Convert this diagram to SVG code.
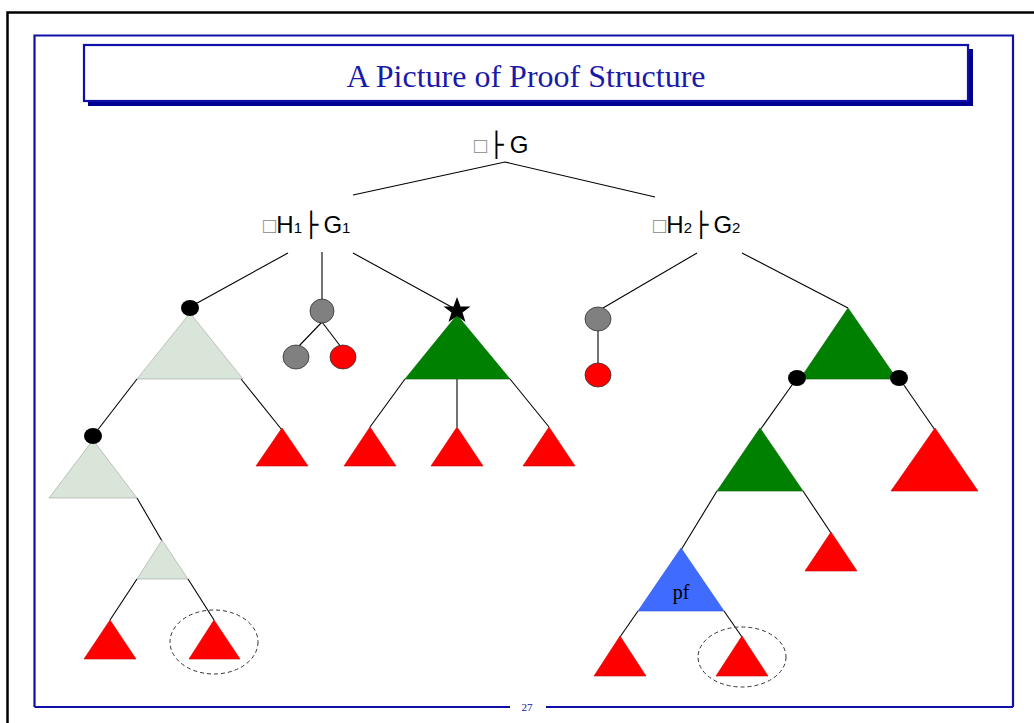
<svg xmlns="http://www.w3.org/2000/svg" width="1034" height="723" viewBox="0 0 1034 723">
<style>
.lbl{font-family:"Liberation Sans",Arial,sans-serif;font-size:24px;fill:#000}
.sub{font-size:15px}
.tofu{fill:#888;font-size:22px}
.tk{font-family:"DejaVu Sans",sans-serif;font-size:24px}
.e{stroke:#000;stroke-width:1.1;fill:none}
.red{fill:#ff0000;stroke:#cc0000;stroke-width:0.6}
.lg{fill:#d8e5d8;stroke:#a0a0a0;stroke-width:0.6}
.dg{fill:#008000;stroke:#006000;stroke-width:0.6}
.blue{fill:#3f6bff;stroke:#2a50d0;stroke-width:0.6}
.gray{fill:#808080;stroke:#333;stroke-width:0.8}
.rc{fill:#ff0000;stroke:#333;stroke-width:0.8}
.dot{fill:#000}
.dash{fill:none;stroke:#333;stroke-width:1;stroke-dasharray:4,3}
</style>
<rect width="1034" height="723" fill="#fff"/>
<g id="frame">
<path d="M7.5,723 V12.5 H1034" fill="none" stroke="#000" stroke-width="2.5"/>
<path d="M34.5,707 V35.5 H1013 V707" fill="none" stroke="#1010a8" stroke-width="2.2"/>
<path d="M34.5,707 H510 M546,707 H1013" fill="none" stroke="#1010a8" stroke-width="2.2"/>
<text x="527" y="711" font-family="Liberation Serif,serif" font-size="11" fill="#1010a8" text-anchor="middle">27</text>
</g>
<g id="title">
<rect x="88" y="49" width="885" height="57" fill="#000090"/>
<rect x="84" y="45" width="884" height="56" fill="#fff" stroke="#1010a8" stroke-width="2.2"/>
<text x="526" y="87" font-family="Liberation Serif,serif" font-size="32" fill="#1a1aa8" text-anchor="middle">A Picture of Proof Structure</text>
</g>
<g id="connectors">
<polyline class="e" points="353,195 505,162 655,197"/>
<line class="e" x1="288" y1="253" x2="190" y2="307"/>
<line class="e" x1="322" y1="252" x2="322" y2="300"/>
<line class="e" x1="353" y1="253" x2="457" y2="310"/>
<line class="e" x1="322" y1="322" x2="298" y2="347"/>
<line class="e" x1="322" y1="322" x2="341" y2="347"/>
<line class="e" x1="137" y1="379" x2="93" y2="436"/>
<line class="e" x1="241" y1="379" x2="282" y2="430"/>
<line class="e" x1="137" y1="498" x2="162" y2="541"/>
<line class="e" x1="137" y1="579" x2="110" y2="620"/>
<line class="e" x1="188" y1="579" x2="214" y2="620"/>
<line class="e" x1="405" y1="379" x2="370" y2="427"/>
<line class="e" x1="457" y1="379" x2="457" y2="427"/>
<line class="e" x1="510" y1="379" x2="549" y2="427"/>
<line class="e" x1="697" y1="253" x2="603" y2="308"/>
<line class="e" x1="742" y1="253" x2="848" y2="308"/>
<line class="e" x1="598" y1="331" x2="598" y2="364"/>
<line class="e" x1="797" y1="378" x2="760" y2="430"/>
<line class="e" x1="899" y1="378" x2="935" y2="430"/>
<line class="e" x1="717" y1="491" x2="681" y2="550"/>
<line class="e" x1="803" y1="491" x2="831" y2="533"/>
<line class="e" x1="638" y1="611" x2="620" y2="637"/>
<line class="e" x1="724" y1="611" x2="742" y2="637"/>
</g>
<g id="root">
<text class="lbl" x="474" y="153"><tspan class="tofu">□</tspan><tspan class="tk" dx="2">├</tspan><tspan dx="6">G</tspan></text>
</g>
<g id="h1">
<text class="lbl" x="263" y="233"><tspan class="tofu">□</tspan>H<tspan class="sub">1</tspan><tspan class="tk" dx="2">├</tspan><tspan dx="5">G</tspan><tspan class="sub">1</tspan></text>
</g>
<g id="h2">
<text class="lbl" x="653" y="233"><tspan class="tofu">□</tspan>H<tspan class="sub">2</tspan><tspan class="tk" dx="2">├</tspan><tspan dx="5">G</tspan><tspan class="sub">2</tspan></text>
</g>
<g id="lt1"><polygon class="lg" points="190,313 137,379 243,379"/><ellipse class="dot" cx="190" cy="308" rx="9" ry="8"/></g>
<g id="lr1"><polygon class="red" points="282,428 256,466 308,466"/></g>
<g id="lt2"><polygon class="lg" points="93,440 49,498 137,498"/><ellipse class="dot" cx="93" cy="436" rx="9" ry="8"/></g>
<g id="lt3"><polygon class="lg" points="162,540 137,579 188,579"/></g>
<g id="lr2"><polygon class="red" points="110,620 84,659 136,659"/></g>
<g id="lr3"><polygon class="red" points="214,620 189,659 240,659"/><ellipse class="dash" cx="214" cy="642" rx="44" ry="32"/></g>
<g id="c1"><ellipse class="gray" cx="322" cy="311" rx="12" ry="12"/></g>
<g id="c2"><ellipse class="gray" cx="296" cy="357" rx="13" ry="12"/></g>
<g id="c3"><ellipse class="rc" cx="343" cy="357" rx="13" ry="12"/></g>
<g id="st"><polygon class="dg" points="457,315 405,379 510,379"/>
<polygon fill="#000" points="457,297 460.5,306.5 470.5,306.5 462.5,312.5 465.5,322 457,316 448.5,322 451.5,312.5 443.5,306.5 453.5,306.5"/></g>
<g id="sr1"><polygon class="red" points="370,427 344,466 396,466"/></g>
<g id="sr2"><polygon class="red" points="457,427 431,466 483,466"/></g>
<g id="sr3"><polygon class="red" points="549,427 523,466 575,466"/></g>
<g id="c4"><ellipse class="gray" cx="598" cy="319" rx="13" ry="12"/></g>
<g id="c5"><ellipse class="rc" cx="598" cy="375" rx="13" ry="12"/></g>
<g id="rt1"><polygon class="dg" points="848,308 800,379 897,379"/><ellipse class="dot" cx="797" cy="378" rx="9" ry="8"/><ellipse class="dot" cx="899" cy="378" rx="9" ry="8"/></g>
<g id="rt2"><polygon class="dg" points="760,428 717,491 803,491"/></g>
<g id="rr1"><polygon class="red" points="935,428 891,491 978,491"/></g>
<g id="pf"><polygon class="blue" points="681,548 638,611 724,611"/><text x="681" y="599" font-family="Liberation Serif,serif" font-size="20" fill="#000" text-anchor="middle">pf</text></g>
<g id="rr2"><polygon class="red" points="831,532 805,571 857,571"/></g>
<g id="rr3"><polygon class="red" points="620,636 594,676 646,676"/></g>
<g id="rr4"><polygon class="red" points="742,636 716,676 768,676"/><ellipse class="dash" cx="742" cy="657" rx="44" ry="30"/></g>
</svg>
